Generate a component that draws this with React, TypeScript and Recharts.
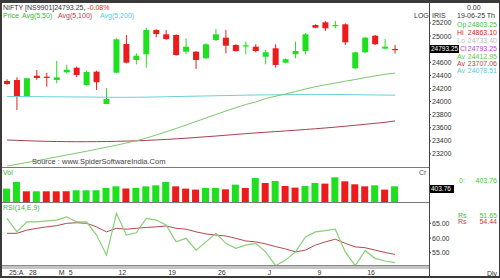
import { ComposedChart, Bar, Line, XAxis, YAxis, Cell } from "recharts";

const FONT = "'Liberation Sans', Arial, sans-serif";
const GREEN = "#1ee01e";
const RED = "#ec1c1c";

const days = [
  "24-04", "25-04", "28-04", "29-04", "30-04", "02-05", "05-05", "06-05", "07-05", "08-05",
  "09-05", "12-05", "13-05", "14-05", "15-05", "16-05", "19-05", "20-05", "21-05", "22-05",
  "23-05", "26-05", "27-05", "28-05", "29-05", "30-05", "02-06", "03-06", "04-06", "05-06",
  "06-06", "09-06", "10-06", "11-06", "12-06", "13-06", "16-06", "17-06", "18-06", "19-06",
];
const dayLabels = [
  "25:A", "", "28", "", "", "M", "5", "", "", "",
  "", "12", "", "", "", "", "19", "", "", "",
  "", "26", "", "", "", "", "J", "", "", "",
  "", "9", "", "", "", "", "16", "", "", "",
];

const open = [
  24315, 24330, 24085, 24395, 24380, 24330, 24447, 24517, 24253, 24457,
  23963, 24441, 24879, 24635, 24722, 25093, 25027, 25017, 24762, 24762,
  24661, 24940, 24976, 24864, 24849, 24838, 24685, 24814, 24594, 24722,
  24772, 25169, 25210, 25154, 25180, 24508, 24752, 25006, 24808, 24803.25,
];
const high = [
  24340, 24371, 24364, 24482, 24440, 24620, 24560, 24533, 24472, 24472,
  24203, 24966, 25017, 24737, 25128, 25104, 25093, 25027, 24966, 24772,
  24890, 25108, 25093, 24875, 24915, 24875, 24788, 24875, 24661, 24915,
  25043, 25180, 25230, 25230, 25195, 24762, 24991, 25017, 24956, 24863.1,
];
const low = [
  24253, 23871, 24070, 24330, 24227, 24280, 24432, 24371, 24243, 24177,
  23960, 24432, 24585, 24569, 24517, 24982, 24940, 24701, 24722, 24498,
  24650, 24925, 24737, 24762, 24722, 24752, 24569, 24517, 24585, 24661,
  24722, 25119, 25078, 25119, 24864, 24498, 24737, 24864, 24798, 24733.4,
];
const close = [
  24269, 24075, 24356, 24360, 24370, 24370, 24487, 24406, 24452, 24295,
  24040, 24951, 24594, 24701, 25093, 25032, 24956, 24711, 24838, 24635,
  24875, 25027, 24853, 24772, 24859, 24772, 24752, 24559, 24646, 24772,
  25027, 25128, 25119, 25169, 24905, 24752, 24976, 24875, 24838, 24793.25,
];

const avg50 = [
  23016, 23042, 23070, 23097, 23126, 23155, 23184, 23213, 23242, 23273,
  23303, 23334, 23368, 23401, 23444, 23490, 23539, 23589, 23642, 23696,
  23749, 23803, 23856, 23907, 23955, 23994, 24047, 24082, 24116, 24154,
  24192, 24227, 24256, 24284, 24311, 24337, 24365, 24392, 24416, 24435,
];
const avg100 = [
  23413, 23408, 23402, 23397, 23393, 23390, 23388, 23387, 23387, 23388,
  23390, 23393, 23397, 23401, 23407, 23414, 23422, 23431, 23441, 23452,
  23463, 23474, 23486, 23498, 23510, 23521, 23532, 23542, 23552, 23563,
  23574, 23585, 23597, 23610, 23624, 23638, 23653, 23668, 23683, 23705,
];
const avg200 = [
  24078, 24077, 24076, 24075, 24074, 24073, 24072, 24071, 24070, 24068,
  24066, 24065, 24065, 24066, 24068, 24071, 24074, 24077, 24080, 24083,
  24086, 24089, 24092, 24095, 24098, 24100, 24102, 24104, 24106, 24107,
  24108, 24109, 24109, 24108, 24107, 24105, 24103, 24101, 24099, 24097,
];

const volume = [
  344, 514, 275, 275, 275, 275, 275, 301, 301, 301,
  360, 403, 344, 360, 403, 429, 514, 403, 344, 319,
  360, 360, 326, 447, 360, 617, 488, 540, 411, 370,
  411, 488, 473, 635, 532, 455, 403, 429, 319, 403.76,
];
const volUp = [
  1, 1, 0, 1, 0, 0, 0, 1, 1, 1,
  1, 1, 0, 1, 1, 1, 1, 0, 0, 0,
  1, 1, 0, 1, 0, 1, 0, 1, 0, 0,
  1, 1, 0, 1, 0, 0, 0, 1, 0, 1,
];

const rsi = [
  66.7, 62.1, 65.5, 65.5, 65.8, 66.1, 67.2, 65.5, 65.5, 61.0,
  54.2, 68.4, 61.0, 61.8, 66.7, 66.1, 64.4, 58.7, 59.9, 55.9,
  58.7, 61.6, 58.2, 56.5, 57.6, 58.2, 55.3, 50.6, 52.5, 55.3,
  60.4, 62.1, 62.5, 63.0, 55.3, 50.6, 55.7, 53.1, 52.2, 51.65,
];
const rsiSignal = [
  61.6, 61.6, 62.7, 63.3, 63.8, 64.2, 65.0, 65.2, 65.0, 63.8,
  62.1, 63.3, 63.0, 63.3, 63.6, 63.8, 64.1, 63.3, 63.0, 62.1,
  61.4, 61.0, 60.7, 59.9, 59.0, 58.7, 58.0, 57.1, 56.3, 55.3,
  55.9, 57.6, 58.7, 59.6, 58.2, 57.0, 56.7, 55.9, 55.1, 54.44,
];

const priceTicks = [23200, 23400, 23600, 23800, 24000, 24200, 24400, 24600, 25000, 25200];
const rsiTicks = [55, 60, 65];

const rows = days.map((day, i) => ({
  day,
  o: open[i],
  h: high[i],
  l: low[i],
  c: close[i],
  range: [low[i], high[i]],
  a50: avg50[i],
  a100: avg100[i],
  a200: avg200[i],
  vol: volume[i],
  rsi: rsi[i],
  sig: rsiSignal[i],
}));

function Candle(props: any) {
  const { x, y, width, height, payload } = props;
  const { o, h, l, c } = payload;
  const color = c >= o ? GREEN : RED;
  const top = Math.min(y, y + height);
  const span = Math.abs(height);
  const k = h === l ? 0 : span / (h - l);
  const bodyTop = top + (h - Math.max(o, c)) * k;
  const bodyBot = top + (h - Math.min(o, c)) * k;
  const cx = x + width / 2;
  return (
    <g>
      <line x1={cx} x2={cx} y1={top} y2={top + span} stroke={color} strokeWidth={1} />
      <rect x={x} y={bodyTop} width={width} height={Math.max(1.2, bodyBot - bodyTop)} fill={color} />
    </g>
  );
}

function DayTick(props: any) {
  const { x, payload } = props;
  const label = dayLabels[days.indexOf(payload.value)];
  if (!label) return null;
  return (
    <text x={x + 2} y={69.5} dy="0.35em" fontSize={7} fill="#333" fontFamily={FONT}>
      {label}
    </text>
  );
}

function T({ x, y, color = "#333", size = 7, right, children }: any) {
  const style: any = {
    position: "absolute",
    top: y - size / 2,
    fontSize: size,
    lineHeight: `${size}px`,
    color,
    whiteSpace: "nowrap",
    fontFamily: FONT,
  };
  if (right !== undefined) style.right = 500 - right;
  else style.left = x;
  return <div style={style}>{children}</div>;
}

function Box({ x, y, w, h, text }: any) {
  return (
    <div
      style={{
        position: "absolute", left: x, top: y, width: w, height: h, background: "#000",
        color: "#fff", fontSize: 6.5, lineHeight: `${h}px`, fontFamily: FONT, paddingLeft: 1,
        boxSizing: "border-box", whiteSpace: "nowrap",
      }}
    >
      {text}
    </div>
  );
}

const hline = (y: number, h: number, color: string) => (
  <div style={{ position: "absolute", left: 2, top: y, width: 427, height: h, background: color }} />
);

export default function App() {
  const tickStyle = { fontSize: 7, fill: "#333", fontFamily: FONT };
  return (
    <div style={{ position: "absolute", left: 0, top: 0, width: 500, height: 280, background: "#fff", overflow: "hidden" }}>
      <div style={{ position: "absolute", left: 0, top: 0, width: 500, height: 278, borderStyle: "solid", borderColor: "#3a3a3a", borderWidth: "3px 1px 2px 2px", boxSizing: "border-box" }} />

      <div style={{ position: "absolute", left: 0, top: 0 }}>
        <ComposedChart width={500} height={167} data={rows} margin={{ top: 4, right: 0, bottom: 0, left: 2 }}>
          <XAxis dataKey="day" hide scale="band" padding={{ left: 0, right: 29 }} />
          <YAxis
            orientation="right"
            width={71}
            domain={[23001, 25490]}
            allowDataOverflow
            ticks={priceTicks}
            axisLine={false}
            tickSize={2}
            tickMargin={1}
            tickLine={{ stroke: "#444" }}
            tick={tickStyle}
          />
          <Line dataKey="a200" stroke="#6cd0dc" strokeWidth={1} dot={false} isAnimationActive={false} />
          <Line dataKey="a100" stroke="#a8404c" strokeWidth={1} dot={false} isAnimationActive={false} />
          <Line dataKey="a50" stroke="#7cc86a" strokeWidth={1} dot={false} isAnimationActive={false} />
          <Bar dataKey="range" barSize={6} shape={<Candle />} isAnimationActive={false} />
        </ComposedChart>
      </div>

      <div style={{ position: "absolute", left: 0, top: 167 }}>
        <ComposedChart width={500} height={35} data={rows} margin={{ top: 0, right: 71, bottom: 0, left: 2 }}>
          <XAxis dataKey="day" hide scale="band" padding={{ left: 0, right: 29 }} />
          <YAxis hide domain={[0, 900]} />
          <Bar dataKey="vol" barSize={7} isAnimationActive={false}>
            {rows.map((r, i) => (
              <Cell key={r.day} fill={volUp[i] ? GREEN : RED} />
            ))}
          </Bar>
        </ComposedChart>
      </div>

      <div style={{ position: "absolute", left: 0, top: 203 }}>
        <ComposedChart width={500} height={75} data={rows} margin={{ top: 0, right: 0, bottom: 0, left: 2 }}>
          <XAxis
            dataKey="day"
            scale="band"
            padding={{ left: 0, right: 29 }}
            height={12}
            axisLine={false}
            tickLine={false}
            interval={0}
            tick={<DayTick />}
          />
          <YAxis
            orientation="right"
            width={71}
            domain={[50.5, 71.9]}
            allowDataOverflow
            ticks={rsiTicks}
            tickFormatter={(v: number) => v.toFixed(2)}
            axisLine={false}
            tickSize={2}
            tickMargin={1}
            tickLine={{ stroke: "#444" }}
            tick={tickStyle}
          />
          <Line dataKey="sig" stroke="#b04a50" strokeWidth={1} dot={false} isAnimationActive={false} />
          <Line dataKey="rsi" stroke="#86d076" strokeWidth={1.2} dot={false} isAnimationActive={false} />
        </ComposedChart>
      </div>

      {hline(166.5, 1, "#7a7a7a")}
      {hline(202.2, 1, "#7a7a7a")}
      {hline(265, 1, "#8a8a8a")}
      {hline(266, 2.5, "#c4c4c4")}
      <div style={{ position: "absolute", left: 429, top: 3, width: 1, height: 275, background: "#444" }} />

      <T x={3} y={7.5}>NIFTY [NS9901]24793.25, <span style={{ color: RED }}>-0.08%</span></T>
      <T x={3} y={15.5} color="#3cb43c">Price</T>
      <T x={22} y={15.5} color="#3cb43c">Avg(5,50)</T>
      <T x={58} y={15.5} color="#c03a44">Avg(5,100)</T>
      <T x={100} y={15.5} color="#58c8dc">Avg(5,200)</T>
      <T x={32} y={162} color="#444" size={7.5}>Source : www.SpiderSoftwareIndia.Com</T>

      <T x={467} y={7.3}>0.00</T>
      <T x={414} y={15.7}>LOG</T>
      <T x={432} y={15.7}>IRIS</T>
      <T x={457} y={15.7}>19-06-25 Th</T>
      <T x={457} y={24.7} color="#3cc43c">Op</T>
      <T right={497} y={24.7} color="#3cc43c">24803.25</T>
      <T x={457} y={32.5} color="#e02020">Hi</T>
      <T right={497} y={32.5} color="#e02020">24863.10</T>
      <T x={457} y={40.5} color="#bdbdbd">Lo</T>
      <T right={497} y={40.5} color="#bdbdbd">24733.40</T>
      <T x={460} y={48.5} color="#c040e0">Cl</T>
      <T right={497} y={48.5} color="#c040e0">24793.25</T>
      <T x={457} y={56} color="#5cc84c">Av</T>
      <T right={497} y={56} color="#5cc84c">24412.95</T>
      <T x={457} y={63.3} color="#c0404a">Av</T>
      <T right={497} y={63.3} color="#c0404a">23707.06</T>
      <T x={457} y={70.5} color="#58c8dc">Av</T>
      <T right={497} y={70.5} color="#58c8dc">24078.51</T>
      <Box x={430} y={45} w={29} h={8} text="24793.25" />

      <T x={3} y={172} color="#3cb43c">Vol</T>
      <T x={419} y={172} color="#555">Cr</T>
      <T x={459} y={180} color="#3cc43c">0:</T>
      <T right={497} y={180} color="#3cc43c">403.76</T>
      <Box x={430} y={184.5} w={24} h={8} text="403.76" />

      <T x={3} y={207} color="#3cb43c">RSI(14,E,9)</T>
      <T x={458} y={215} color="#3cc43c">Rs</T>
      <T right={497} y={215} color="#3cc43c">51.65</T>
      <T x={458} y={221.5} color="#c0404a">Rs</T>
      <T right={497} y={221.5} color="#c0404a">54.44</T>
      <T x={487} y={273}>Dly</T>
    </div>
  );
}
